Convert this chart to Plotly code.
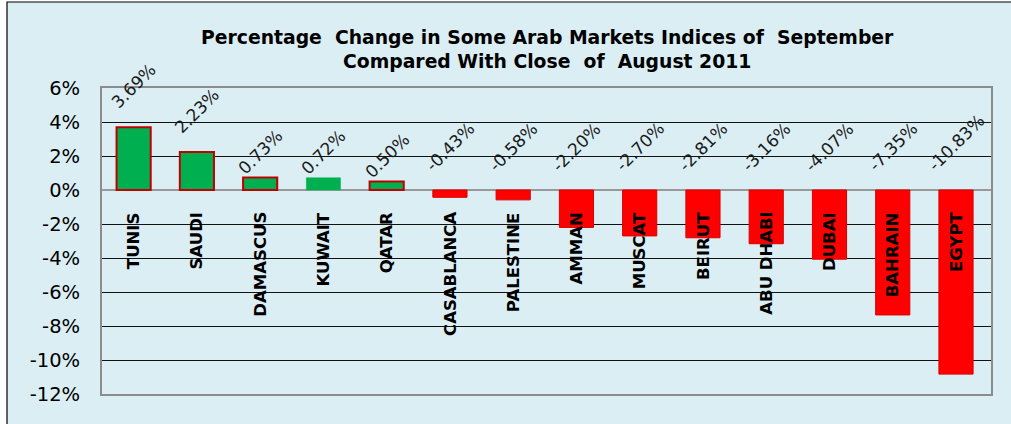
import plotly.graph_objects as go

markets = ["TUNIS", "SAUDI", "DAMASCUS", "KUWAIT", "QATAR", "CASABLANCA", "PALESTINE",
           "AMMAN", "MUSCAT", "BEIRUT", "ABU DHABI", "DUBAI", "BAHRAIN", "EGYPT"]
changes = [3.69, 2.23, 0.73, 0.72, 0.50, -0.43, -0.58,
           -2.20, -2.70, -2.81, -3.16, -4.07, -7.35, -10.83]
value_labels = ["3.69%", "2.23%", "0.73%", "0.72%", "0.50%", "-0.43%", "-0.58%",
                "-2.20%", "-2.70%", "-2.81%", "-3.16%", "-4.07%", "-7.35%", "-10.83%"]
y_ticks = [6, 4, 2, 0, -2, -4, -6, -8, -10, -12]
y_tick_labels = ["6%", "4%", "2%", "0%", "-2%", "-4%", "-6%", "-8%", "-10%", "-12%"]

title_text = ("<b>Percentage  Change in Some Arab Markets Indices of  September</b><br>"
              "<b>Compared With Close  of  August 2011</b>")

BG = "#DBEEF4"
GREEN = "#00B050"
RED = "#FF0000"

fill_colors = [GREEN if v > 0 else RED for v in changes]
line_colors = []
line_widths = []
for m, v in zip(markets, changes):
    if v > 0:
        if m == "KUWAIT":
            line_colors.append(GREEN)
            line_widths.append(0.5)
        else:
            line_colors.append("#C00000")
            line_widths.append(2)
    else:
        line_colors.append("#D80000")
        line_widths.append(1)

fig = go.Figure()
fig.add_trace(go.Bar(
    x=markets, y=changes,
    marker=dict(color=fill_colors, line=dict(color=line_colors, width=line_widths)),
    width=0.54,
    hoverinfo="x+y",
))

# plot area geometry (pixels) used to place the outer chart frame
W, H = 1011, 424
ml, mr, mt, mb = 102, 20, 88, 30
pw, ph = W - ml - mr, H - mt - mb

def px_x(p):
    return (p - ml) / pw

def px_y(p):
    return (H - mb - p) / ph

shapes = [
    dict(type="rect", xref="paper", yref="paper", layer="below",
         x0=px_x(7), x1=px_x(W + 10), y0=px_y(H + 10), y1=px_y(2),
         fillcolor=BG, line=dict(color="black", width=1.2)),
]

annotations = []
# category labels inside the plot, rotated
for m in markets:
    annotations.append(dict(
        x=m, y=0, xref="x", yref="y", text="<b>%s</b>" % m,
        textangle=-90, showarrow=False, xanchor="center", yanchor="top",
        yshift=-20, font=dict(family="DejaVu Sans", size=16.5, color="black"),
    ))
# value labels, rotated 45 degrees
for m, v, t in zip(markets, changes, value_labels):
    if v > 1:
        shift = 12
    elif v > 0:
        shift = -3
    else:
        shift = 12
    annotations.append(dict(
        x=m, y=max(v, 0), xref="x", yref="y", text=t,
        textangle=-45, showarrow=False, xanchor="center", yanchor="bottom",
        yshift=shift, font=dict(family="DejaVu Sans", size=17, color="#1a1a1a"),
    ))

annotations.append(dict(
    x=px_x(547), y=px_y(49), xref="paper", yref="paper", text=title_text,
    showarrow=False, xanchor="center", yanchor="middle", align="center",
    font=dict(family="DejaVu Sans", size=18.8, color="black"),
))

fig.update_layout(
    width=W, height=H,
    margin=dict(l=ml, r=mr, t=mt, b=mb),
    paper_bgcolor="white",
    plot_bgcolor="rgba(0,0,0,0)",
    showlegend=False,
    shapes=shapes,
    annotations=annotations,
    bargap=0.46,
    xaxis=dict(showticklabels=False, showgrid=False, zeroline=False,
               showline=True, linecolor="#8C8C8C", linewidth=2, mirror=True,
               ticks=""),
    yaxis=dict(range=[-12, 6], tickvals=y_ticks, ticktext=y_tick_labels,
               showgrid=True, gridcolor="#111111", gridwidth=1.2,
               zeroline=True, zerolinecolor="#999999", zerolinewidth=2,
               showline=True, linecolor="#8C8C8C", linewidth=2, mirror=True,
               ticks="", ticklabelstandoff=16,
               tickfont=dict(family="DejaVu Sans", size=19.5, color="black")),
    font=dict(family="DejaVu Sans"),
)

fig.write_html("out.html", config={"displayModeBar": False},
               post_script="document.body.style.margin='0';")
